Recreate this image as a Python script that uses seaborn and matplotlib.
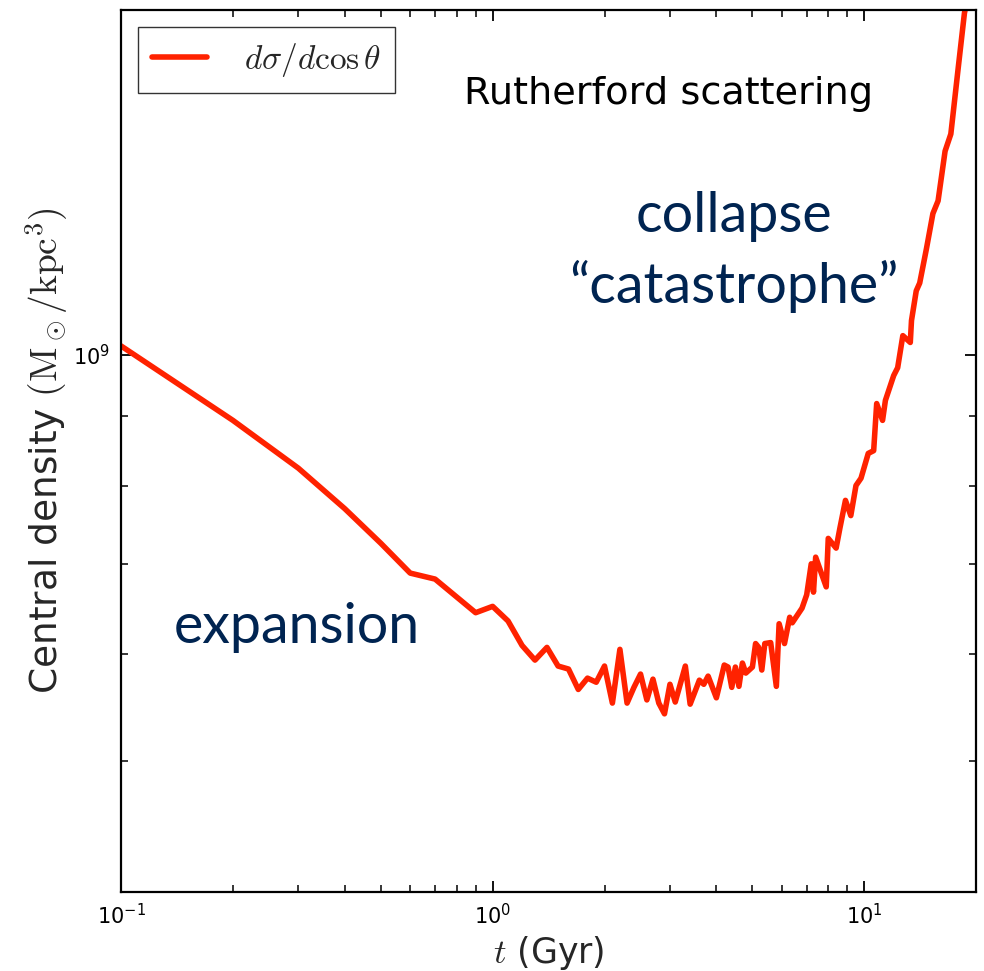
import matplotlib
matplotlib.use("Agg")
import matplotlib.pyplot as plt
import pandas as pd
import seaborn as sns

# time (Gyr) and central density (Msun/kpc^3)
t_gyr = [0.10, 0.20, 0.30, 0.40, 0.50, 0.60, 0.70, 0.90, 1.0, 1.1,
         1.2, 1.3, 1.4, 1.5, 1.6, 1.7, 1.8, 1.9, 2.0, 2.1,
         2.2, 2.3, 2.4, 2.5, 2.6, 2.7, 2.8, 2.9, 3.0, 3.1,
         3.3, 3.4, 3.6, 3.7, 3.8, 4.0, 4.2, 4.3, 4.4, 4.5,
         4.6, 4.7, 4.8, 5.0, 5.1, 5.2, 5.3, 5.4, 5.6, 5.8,
         5.9, 6.1, 6.3, 6.4, 6.8, 7.0, 7.2, 7.3, 7.4, 7.9,
         8.0, 8.4, 8.6, 8.9, 9.2, 9.5, 9.8, 10.25, 10.6, 10.8,
         11.2, 11.4, 12.0, 12.3, 12.7, 13.3, 13.4, 13.8, 14.1, 14.7,
         15.3, 15.8, 16.5, 17.1, 17.9, 18.6, 19.0]
rho_c = [1.015e9, 8.94e8, 8.24e8, 7.69e8, 7.25e8, 6.89e8, 6.82e8, 6.44e8, 6.51e8, 6.35e8,
         6.09e8, 5.94e8, 6.07e8, 5.88e8, 5.85e8, 5.65e8, 5.76e8, 5.72e8, 5.88e8, 5.52e8,
         6.05e8, 5.52e8, 5.67e8, 5.80e8, 5.55e8, 5.75e8, 5.52e8, 5.42e8, 5.70e8, 5.53e8,
         5.88e8, 5.51e8, 5.74e8, 5.70e8, 5.78e8, 5.57e8, 5.89e8, 5.87e8, 5.67e8, 5.87e8,
         5.68e8, 5.91e8, 5.81e8, 5.87e8, 6.11e8, 6.07e8, 5.84e8, 6.11e8, 6.12e8, 5.68e8,
         6.32e8, 6.11e8, 6.39e8, 6.33e8, 6.49e8, 6.64e8, 7.00e8, 6.67e8, 7.08e8, 6.73e8,
         7.31e8, 7.19e8, 7.44e8, 7.80e8, 7.60e8, 8.00e8, 8.10e8, 8.45e8, 8.49e8, 9.20e8,
         8.94e8, 9.25e8, 9.65e8, 9.78e8, 1.033e9, 1.021e9, 1.060e9, 1.115e9, 1.130e9, 1.198e9,
         1.272e9, 1.300e9, 1.415e9, 1.457e9, 1.631e9, 1.790e9, 1.843e9]

sns.set_style("ticks")
plt.rcParams["mathtext.fontset"] = "cm"
plt.rcParams["font.family"] = ["DejaVu Sans"]

df = pd.DataFrame({"t": t_gyr, "rho": rho_c})

fig = plt.figure(figsize=(9.84, 9.71), dpi=100)
ax = fig.add_axes([0.123, 0.0814, 0.869, 0.9083])

sns.lineplot(data=df, x="t", y="rho", color="#ff2200", linewidth=4.0,
             sort=False, estimator=None, label=r"$d\sigma/d\cos\theta$", ax=ax)

ax.set_xscale("log")
ax.set_yscale("log")
ax.set_xlim(0.1, 20)
ax.set_ylim(4e8, 1.8e9)

for side in ax.spines.values():
    side.set_linewidth(1.6)
    side.set_color("black")
ax.tick_params(which="both", direction="in", top=True, right=True,
               colors="black", labelsize=15)
ax.tick_params(which="major", length=8, width=1.3, pad=8)
ax.tick_params(which="minor", length=5, width=1.1)
ax.yaxis.set_minor_formatter(matplotlib.ticker.NullFormatter())

ax.set_xlabel(r"$t$ (Gyr)", fontsize=25, labelpad=4)
ax.set_ylabel(r"Central density $(\mathrm{M_\odot/kpc^3})$", fontsize=27, labelpad=2)

leg = ax.legend(loc="upper left", fontsize=24, fancybox=False, frameon=True,
                handlelength=1.65, handletextpad=1.1, borderpad=0.42,
                borderaxespad=0.0, bbox_to_anchor=(0.02, 0.981))
leg.get_frame().set_edgecolor("black")
leg.get_frame().set_linewidth(1.0)

ax.text(0.88, 0.905, "Rutherford scattering", transform=ax.transAxes,
        fontsize=27.5, ha="right", va="center", color="black")

navy = "#002451"
ax.text(0.717, 0.766, "collapse", transform=ax.transAxes, fontsize=40,
        family=["Lato", "DejaVu Sans"], ha="center", va="center", color=navy)
ax.text(0.717, 0.686, "\u201ccatastrophe\u201d", transform=ax.transAxes, fontsize=40,
        family=["Lato", "DejaVu Sans"], ha="center", va="center", color=navy)
ax.text(0.206, 0.30, "expansion", transform=ax.transAxes, fontsize=40,
        family=["Lato", "DejaVu Sans"], ha="center", va="center", color=navy)

fig.savefig("out.png", dpi=100)
plt.close(fig)
